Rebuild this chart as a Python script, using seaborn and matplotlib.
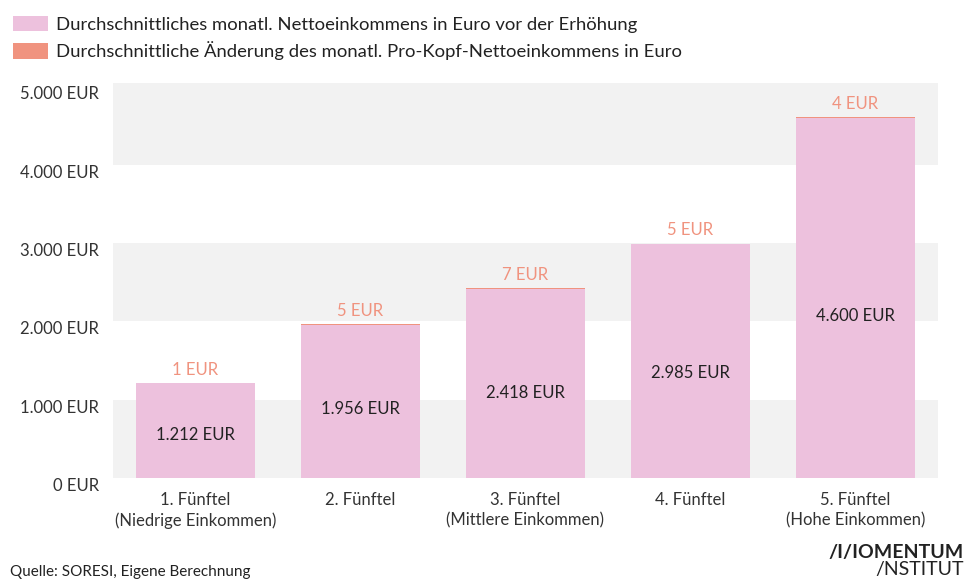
import matplotlib
matplotlib.use("Agg")
import matplotlib.pyplot as plt
import seaborn as sns
import pandas as pd
from matplotlib.patches import Patch

categories = ["1. Fünftel\n(Niedrige Einkommen)", "2. Fünftel",
              "3. Fünftel\n(Mittlere Einkommen)", "4. Fünftel",
              "5. Fünftel\n(Hohe Einkommen)"]
base = [1212, 1956, 2418, 2985, 4600]
change = [1, 5, 7, 5, 4]
yticks = [0, 1000, 2000, 3000, 4000, 5000]
ytick_labels = ["0 EUR", "1.000 EUR", "2.000 EUR", "3.000 EUR", "4.000 EUR", "5.000 EUR"]
legend_labels = ["Durchschnittliches monatl. Nettoeinkommens in Euro vor der Erhöhung",
                 "Durchschnittliche Änderung des monatl. Pro-Kopf-Nettoeinkommens in Euro"]

PINK = "#EDC1DD"
ORANGE = "#F0937F"
DARK = "#222222"

sns.set_theme(style="white")
plt.rcParams['font.family'] = ['Lato', 'DejaVu Sans']

df = pd.DataFrame({"cat": categories, "base": base,
                   "total": [b + c for b, c in zip(base, change)]})

fig = plt.figure(figsize=(9.65, 5.81), dpi=100)
ax = fig.add_axes([0.117, 0.177, 0.855, 0.680])

for lo, hi in [(0, 1000), (2000, 3000), (4000, 5040)]:
    ax.axhspan(lo, hi, color="#F2F2F2", zorder=0, lw=0)

sns.barplot(data=df, x="cat", y="total", color=ORANGE, saturation=1,
            width=0.72, ax=ax, zorder=2, edgecolor="none", linewidth=0)
sns.barplot(data=df, x="cat", y="base", color=PINK, saturation=1,
            width=0.72, ax=ax, zorder=3, edgecolor="none", linewidth=0)

for i, (b, c) in enumerate(zip(base, change)):
    ax.text(i, b * 0.45, f"{b/1000:.3f} EUR",
            ha="center", va="center", fontsize=12, color=DARK, zorder=5)
    ax.annotate(f"{c} EUR", xy=(i, b + c), xytext=(0, 4), textcoords="offset points",
                ha="center", va="bottom", fontsize=12, color=ORANGE, zorder=5)

ax.set_xlim(-0.5, 4.5)
ax.set_ylim(0, 5040)
ax.set_yticks(yticks)
ax.set_yticklabels(ytick_labels, fontsize=12, color="#333333")
for lab in ax.get_yticklabels():
    lab.set_va("top")
ax.tick_params(axis="y", length=0, pad=10)
ax.tick_params(axis="x", length=0, pad=10, labelsize=12, labelcolor="#333333")
for lab in ax.get_xticklabels():
    lab.set_linespacing(1.3)
ax.set_xlabel("")
ax.set_ylabel("")
for s in ax.spines.values():
    s.set_visible(False)
ax.grid(False)

handles = [Patch(facecolor=PINK, edgecolor="none"), Patch(facecolor=ORANGE, edgecolor="none")]
fig.legend(handles, legend_labels, loc="upper left", bbox_to_anchor=(0.0096, 0.979),
           frameon=False, fontsize=13.3, handlelength=1.9, handleheight=0.92,
           handletextpad=0.43, labelspacing=0.45, labelcolor=DARK,
           borderpad=0.2, borderaxespad=0)

fig.text(0.010, 0.008, "Quelle: SORESI, Eigene Berechnung", fontsize=11, color=DARK,
         ha="left", va="baseline")
fig.text(0.999, 0.040, "/I/IOMENTUM", fontsize=14, fontweight="bold", color=DARK,
         ha="right", va="baseline")
fig.text(0.999, 0.010, "/NSTITUT", fontsize=14, color=DARK, ha="right", va="baseline")

fig.savefig("out.png", dpi=100)
